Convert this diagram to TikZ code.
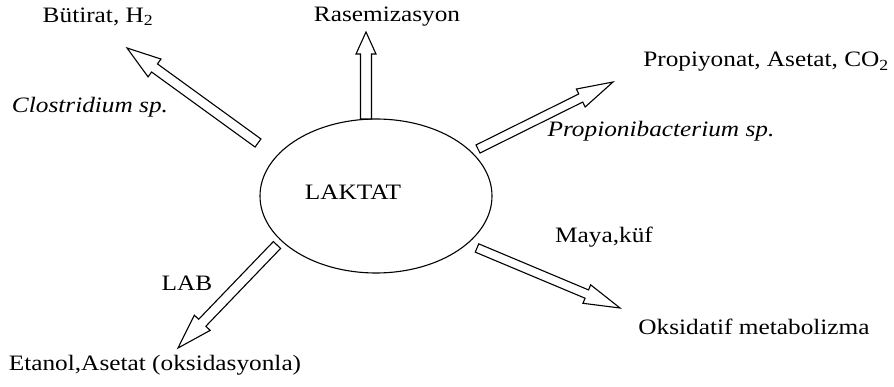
\documentclass[tikz,border=0pt]{standalone}
\usepackage{fontspec}
\setmainfont{Liberation Serif}[FakeStretch=1.15]
\usetikzlibrary{calc}
\newcommand\hollowarrow[5]{% #1 tail, #2 tip, #3 head length, #4 head half-width, #5 shaft half-width (pt)
  \coordinate (hb) at ($(#2)!#3pt!(#1)$);
  \draw[blockarrow] ($(#1)!#5pt!90:(#2)$) -- ($(hb)!#5pt!90:(#2)$) -- ($(hb)!#4pt!90:(#2)$) -- (#2)
    -- ($(hb)!#4pt!-90:(#2)$) -- ($(hb)!#5pt!-90:(#2)$) -- ($(#1)!#5pt!-90:(#2)$) -- cycle;}
\tikzset{
  lbl/.style={inner sep=0pt, font=\fontsize{22}{26}\selectfont},
  ilbl/.style={lbl, font=\fontsize{22}{26}\selectfont\itshape},
  blockarrow/.style={draw=black, line width=1.1pt, fill=white, line join=miter},
}
\begin{document}
\begin{tikzpicture}[x=1pt,y=-1pt]
\useasboundingbox (0,0) rectangle (894,387);
\draw[line width=1.1pt] (376,196) ellipse [x radius=116, y radius=77];
\node[lbl] (lak) at (353,192) {LAKTAT};
% coordinates
\coordinate (tclo) at (258,143);  \coordinate (pclo) at (127,48);
\coordinate (tras) at (366,119);  \coordinate (pras) at (366,32);
\coordinate (tpro) at (478,149);  \coordinate (ppro) at (613,82);
\coordinate (tlab) at (277,245);  \coordinate (plab) at (178,348);
\coordinate (tmay) at (477,248);  \coordinate (pmay) at (620,308);
\hollowarrow{tclo}{pclo}{34}{11}{5}
\hollowarrow{tras}{pras}{22}{10}{5.5}
\hollowarrow{tpro}{ppro}{36}{10}{4.5}
\hollowarrow{tlab}{plab}{35}{11}{5}
\hollowarrow{tmay}{pmay}{36}{10}{4.5}
% labels
\node[lbl] (but) at (98,17) {Bütirat, H\textsubscript{2}};
\node[ilbl] (clo) at (90,107) {Clostridium sp.};
\node[lbl] (ras) at (387,17) {Rasemizasyon};
\node[lbl] (pro) at (766,62) {Propiyonat, Asetat, CO\textsubscript{2}};
\node[ilbl] (pba) at (661,131) {Propionibacterium sp.};
\node[lbl] (lab) at (187,283) {LAB};
\node[lbl] (eta) at (155,365) {Etanol,Asetat (oksidasyonla)};
\node[lbl] (may) at (604,237) {Maya,küf};
\node[lbl] (oks) at (754,327) {Oksidatif metabolizma};
\end{tikzpicture}
\end{document}
